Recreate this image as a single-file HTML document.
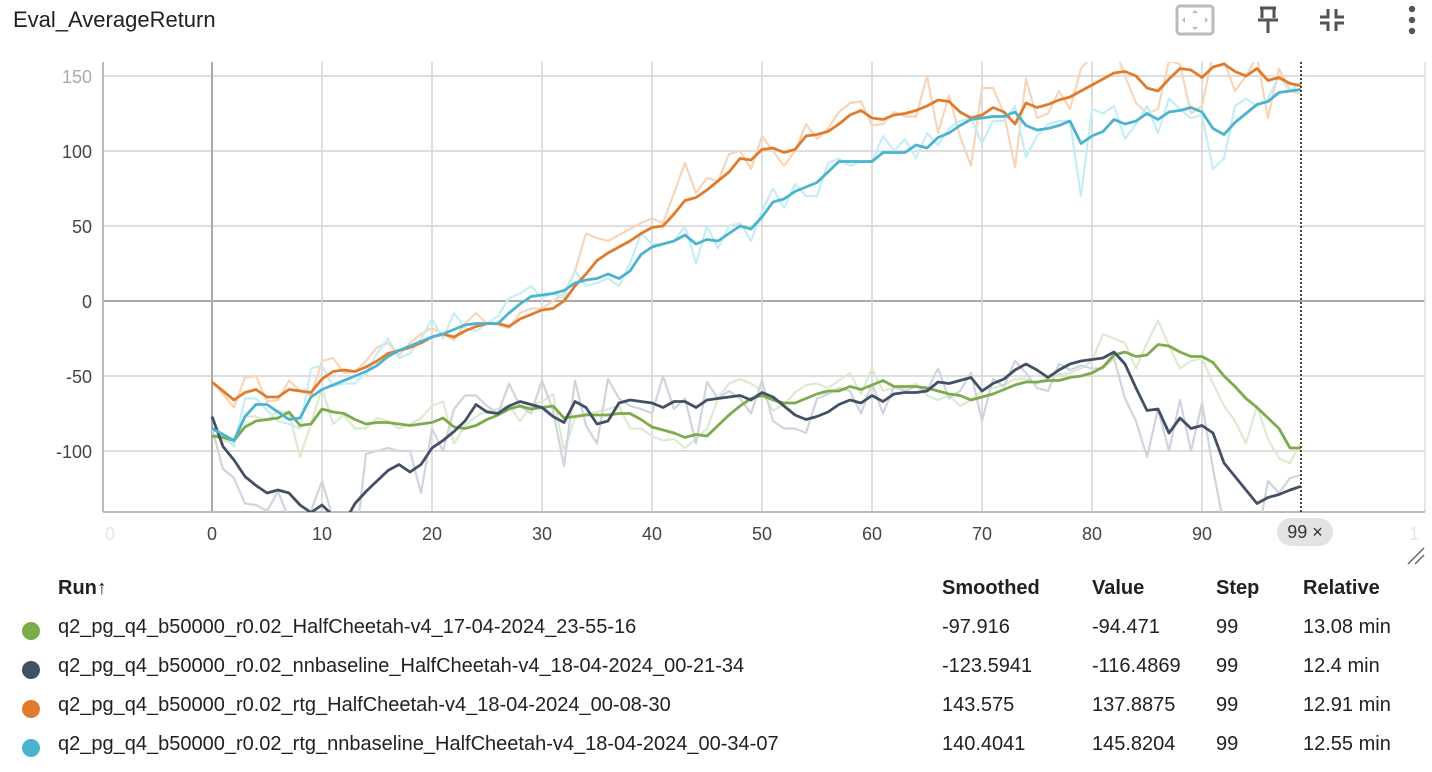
<!DOCTYPE html>
<html><head><meta charset="utf-8">
<style>
body{margin:0;width:1432px;height:770px;background:#fff;font-family:"Liberation Sans",sans-serif;color:#212121;overflow:hidden;position:relative}
.t{position:absolute;white-space:nowrap}
.row{position:absolute;left:0;width:1432px;height:39px;font-size:20px}
.row span{position:absolute;top:0}
.dot{position:absolute;left:22px;top:6px;width:18px;height:18px;border-radius:50%}
</style></head>
<body>
<div class="t" style="left:13px;top:7px;font-size:22px;">Eval_AverageReturn</div>
<svg style="position:absolute;left:1150px;top:0" width="282" height="45">
<g><rect x="27" y="6" width="36" height="28" rx="3" fill="none" stroke="#bbb" stroke-width="3"/><path d="M45 10l3 3h-6zM45 30l3-3h-6zM32 20l3-3v6zM58 20l-3-3v6z" fill="#bbb"/></g>
<g fill="none" stroke="#555" stroke-width="3"><path d="M110 8h16M112 8v10M124 8v10M108 20h20M118 20v13"/></g>
<g fill="none" stroke="#555" stroke-width="3"><path d="M178 9v8h-8M186 9v8h8M178 31v-8h-8M186 31v-8h8"/></g>
<g fill="#555"><circle cx="262" cy="9" r="3.2"/><circle cx="262" cy="20" r="3.2"/><circle cx="262" cy="31" r="3.2"/></g>
</svg>
<svg id="chart" style="position:absolute;left:0;top:0" width="1432" height="560"></svg>
<div class="t" style="left:1277px;top:518px;width:56px;height:28px;border-radius:14px;background:#e3e3e3;font-size:18px;line-height:28px;text-align:center;color:#333">99 ×</div>
<svg style="position:absolute;left:1405px;top:545px" width="22" height="22"><path d="M3 19L19 3M10 19L19 10" stroke="#666" stroke-width="1.5"/></svg>

<div class="row" style="top:577px;font-weight:bold">
<span style="left:58px">Run↑</span>
<span style="left:942px">Smoothed</span>
<span style="left:1092px">Value</span>
<span style="left:1216px">Step</span>
<span style="left:1303px">Relative</span>
</div>
<div class="row" style="top:616px"><div class="dot" style="background:#7cab4c"></div>
<span style="left:58px">q2_pg_q4_b50000_r0.02_HalfCheetah-v4_17-04-2024_23-55-16</span><span style="left:942px">-97.916</span><span style="left:1092px">-94.471</span><span style="left:1216px">99</span><span style="left:1303px">13.08 min</span></div>
<div class="row" style="top:655px"><div class="dot" style="background:#425066"></div>
<span style="left:58px">q2_pg_q4_b50000_r0.02_nnbaseline_HalfCheetah-v4_18-04-2024_00-21-34</span><span style="left:942px">-123.5941</span><span style="left:1092px">-116.4869</span><span style="left:1216px">99</span><span style="left:1303px">12.4 min</span></div>
<div class="row" style="top:694px"><div class="dot" style="background:#e07b2e"></div>
<span style="left:58px">q2_pg_q4_b50000_r0.02_rtg_HalfCheetah-v4_18-04-2024_00-08-30</span><span style="left:942px">143.575</span><span style="left:1092px">137.8875</span><span style="left:1216px">99</span><span style="left:1303px">12.91 min</span></div>
<div class="row" style="top:733px"><div class="dot" style="background:#4cb3cf"></div>
<span style="left:58px">q2_pg_q4_b50000_r0.02_rtg_nnbaseline_HalfCheetah-v4_18-04-2024_00-34-07</span><span style="left:942px">140.4041</span><span style="left:1092px">145.8204</span><span style="left:1216px">99</span><span style="left:1303px">12.55 min</span></div>

<script>
const xTicks=[0,10,20,30,40,50,60,70,80,90];
const yTicks=[-100,-50,0,50,100,150];
const greenRaw=[-88,-93,-95,-77,-77,-80,-73,-75,-104,-82,-58,-82,-76,-85,-85,-78,-80,-85,-82,-78,-70,-67,-95,-83,-77,-73,-72,-70,-80,-70,-67,-62,-100,-78,-75,-74,-72,-70,-85,-85,-90,-93,-92,-98,-92,-85,-65,-55,-52,-55,-60,-73,-69,-61,-56,-55,-58,-53,-48,-62,-45,-60,-58,-58,-55,-63,-66,-63,-70,-66,-60,-58,-56,-52,-52,-55,-51,-49,-48,-45,-40,-22,-25,-28,-45,-28,-13,-30,-45,-40,-38,-55,-70,-80,-95,-70,-92,-105,-108,-94];
const greenSmooth=[-90,-91,-93,-84,-80,-79,-78,-74,-83,-82,-72,-74,-75,-79,-82,-81,-81,-82,-83,-82,-81,-78,-84,-85,-83,-79,-76,-72,-70,-72,-71,-70,-78,-77,-76,-76,-76,-75,-75,-79,-84,-86,-88,-91,-89,-90,-83,-76,-70,-65,-63,-66,-68,-68,-65,-62,-60,-60,-57,-59,-56,-53,-57,-57,-57,-58,-60,-62,-63,-66,-64,-62,-59,-56,-54,-54,-53,-53,-51,-50,-48,-44,-36,-34,-37,-36,-29,-30,-34,-37,-37,-41,-50,-57,-65,-71,-78,-85,-98,-98];
const navyRaw=[-85,-112,-118,-135,-136,-140,-127,-145,-150,-140,-120,-145,-160,-165,-102,-100,-98,-100,-100,-128,-85,-100,-72,-63,-63,-70,-75,-55,-70,-75,-53,-73,-110,-53,-83,-95,-52,-65,-70,-72,-75,-50,-72,-65,-95,-54,-65,-60,-65,-75,-53,-80,-85,-85,-88,-65,-62,-58,-60,-75,-55,-75,-57,-60,-57,-60,-45,-65,-60,-48,-80,-52,-57,-40,-48,-58,-60,-42,-46,-43,-45,-45,-38,-65,-80,-104,-72,-100,-66,-100,-68,-112,-150,-145,-150,-160,-120,-128,-118,-116];
const navySmooth=[-77,-97,-106,-117,-123,-128,-126,-128,-136,-141,-136,-143,-148,-135,-127,-120,-113,-109,-114,-109,-98,-93,-87,-80,-69,-74,-75,-70,-67,-69,-71,-77,-81,-67,-71,-82,-80,-68,-66,-67,-68,-71,-67,-67,-71,-66,-65,-64,-63,-66,-61,-64,-70,-76,-79,-77,-74,-69,-66,-68,-63,-67,-62,-61,-61,-60,-54,-55,-53,-51,-60,-55,-52,-46,-42,-46,-51,-46,-42,-40,-39,-38,-34,-42,-58,-73,-72,-88,-78,-85,-83,-88,-108,-117,-126,-135,-131,-129,-126,-123.5];
const orangeRaw=[-54,-62,-71,-51,-50,-67,-66,-53,-60,-63,-40,-38,-48,-47,-40,-31,-28,-36,-28,-22,-18,-22,-26,-15,-8,-15,-16,-18,-8,-5,-5,0,5,20,45,42,40,44,48,52,55,52,72,92,72,82,80,98,100,88,110,100,90,100,118,108,115,126,132,133,117,118,126,123,123,150,112,137,110,90,142,142,125,89,148,122,125,140,128,155,163,165,170,150,132,125,128,160,158,125,130,165,160,140,150,163,122,155,140,138];
const orangeSmooth=[-54,-60,-66,-61,-59,-64,-64,-59,-60,-61,-52,-47,-46,-47,-44,-40,-35,-33,-31,-28,-24,-22,-24,-20,-17,-15,-15,-17,-12,-9,-6,-5,0,10,18,27,32,36,40,45,49,50,58,67,69,74,80,86,95,94,101,102,99,101,110,111,113,118,124,127,122,121,124,125,127,130,134,133,126,122,124,129,126,118,132,129,131,134,136,140,144,148,152,153,150,142,140,148,155,154,149,156,158,153,150,155,147,149,145,143.5];
const cyanRaw=[-85,-90,-97,-65,-65,-73,-80,-82,-85,-45,-43,-57,-55,-55,-48,-35,-25,-38,-35,-25,-12,-25,-8,-18,-20,-15,-10,2,5,10,2,5,2,20,10,12,15,10,25,45,38,38,40,50,25,50,35,50,52,40,60,75,62,78,70,70,92,95,90,93,93,110,100,108,95,112,104,115,120,122,105,120,120,130,96,110,118,120,120,70,128,125,130,108,118,130,112,135,128,122,124,88,95,130,135,130,135,150,140,146];
const cyanSmooth=[-85,-89,-93,-77,-69,-69,-74,-79,-78,-64,-59,-56,-53,-50,-47,-43,-37,-33,-30,-27,-24,-22,-19,-16,-15,-15,-15,-8,-2,3,4,5,7,12,14,15,18,15,20,31,36,38,40,44,38,41,40,45,50,48,56,66,68,73,76,79,86,93,93,93,93,99,99,99,104,102,109,112,117,121,122,123,123,126,117,114,115,117,120,105,110,113,121,118,120,125,121,126,127,129,126,115,111,119,125,131,133,139,140,141];

const NS='http://www.w3.org/2000/svg';
const svg=document.getElementById('chart');
const L=103,R=1425,T=62,B=512;
const xs=s=>212+(s)*11;
const ys=v=>301-v*1.5;
function mk(tag,attrs,parent){const e=document.createElementNS(NS,tag);for(const k in attrs)e.setAttribute(k,attrs[k]);(parent||svg).appendChild(e);return e;}
const defs=mk('defs',{});
const cp=mk('clipPath',{id:'clip'},defs);mk('rect',{x:L,y:T,width:R-L,height:B-T},cp);
// gridlines
for(const t of yTicks){
  const g=mk('line',{x1:L,x2:R,y1:ys(t),y2:ys(t),stroke:t===0?'#aaa':'#d4d4d4','stroke-width':t===0?2:1.5});
  
  
  const lb=mk('text',{x:92,y:ys(t)+7,'text-anchor':'end','font-size':18,fill:t===150?'#aaa':'#444','font-family':'Liberation Sans, sans-serif'});
  lb.textContent=t;
  
  
}
for(const t of xTicks){
  const g=mk('line',{x1:xs(t),x2:xs(t),y1:T,y2:B,stroke:t===0?'#aaa':'#d4d4d4','stroke-width':t===0?2:1.5});
  
  
  const lb=mk('text',{x:xs(t),y:540,'text-anchor':'middle','font-size':18,fill:'#444','font-family':'Liberation Sans, sans-serif'});
  lb.textContent=t;
  
  
}
const fl=mk('text',{x:110,y:540,'text-anchor':'middle','font-size':18,fill:'#e6e6e6','font-family':'Liberation Sans, sans-serif'});fl.textContent='0';


const fr=mk('text',{x:1414,y:540,'text-anchor':'middle','font-size':18,fill:'#e6e6e6','font-family':'Liberation Sans, sans-serif'});fr.textContent='1';


const le=mk('line',{x1:L,x2:L,y1:T,y2:B,stroke:'#bbb','stroke-width':2});


const re=mk('line',{x1:R,x2:R,y1:T,y2:B,stroke:'#ddd','stroke-width':1.5});


const be=mk('line',{x1:L,x2:R,y1:B,y2:B,stroke:'#bbb','stroke-width':2});


const series=[
 ['green-raw',greenRaw,'#dcebd0',2.2],['navy-raw',navyRaw,'#cfd4de',2.2],['orange-raw',orangeRaw,'#f8d5b8',2.2],['cyan-raw',cyanRaw,'#c4eef6',2.2],
 ['green-smoothed',greenSmooth,'#7cab4c',2.8],['navy-smoothed',navySmooth,'#425066',2.8],['orange-smoothed',orangeSmooth,'#e07b2e',2.8],['cyan-smoothed',cyanSmooth,'#4cb3cf',2.8]];
const g=mk('g',{'clip-path':'url(#clip)'});
for(const [name,arr,col,w] of series){
  const d=arr.map((v,i)=>(i?'L':'M')+xs(i).toFixed(1)+' '+ys(v).toFixed(1)).join('');
  const p=mk('path',{d:d,fill:'none',stroke:col,'stroke-width':w,'stroke-linejoin':'round'},g);
  
  
}
const cur=mk('line',{x1:xs(99),x2:xs(99),y1:T,y2:B,stroke:'#444','stroke-width':2,'stroke-dasharray':'2,2'});


</script>
</body></html>
